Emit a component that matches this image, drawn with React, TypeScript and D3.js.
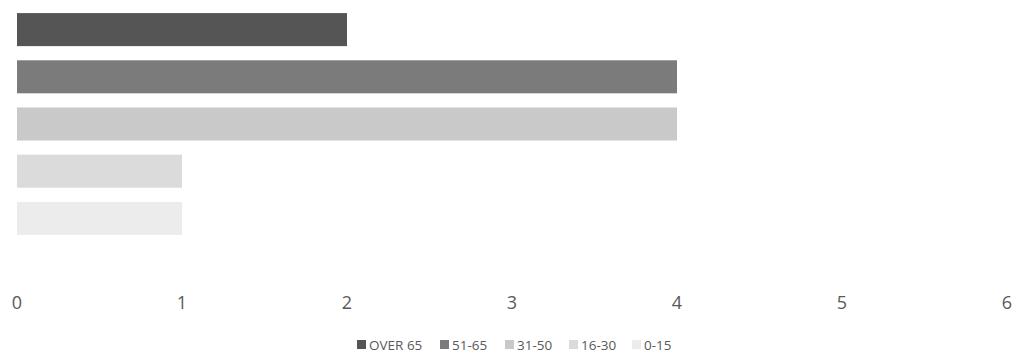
import React, { useEffect, useRef } from "react";
import * as d3 from "d3";

const categories = ["OVER 65", "51-65", "31-50", "16-30", "0-15"];
const values = [2, 4, 4, 1, 1];
const colors = ["#555555", "#7b7b7b", "#c9c9c9", "#dbdbdb", "#ececec"];
const xTicks = [0, 1, 2, 3, 4, 5, 6];

const W = 1017;
const H = 358;

export default function App() {
  const ref = useRef<SVGSVGElement>(null);

  useEffect(() => {
    const svg = d3.select(ref.current);
    svg.selectAll("*").remove();

    const x = d3.scaleLinear().domain([0, 6]).range([17, 1007]);
    const y = d3
      .scaleBand<string>()
      .domain(categories)
      .range([6, 242])
      .paddingInner(0.3)
      .paddingOuter(0.15);

    svg
      .append("g")
      .selectAll("rect")
      .data(categories)
      .join("rect")
      .attr("x", x(0))
      .attr("y", (d) => y(d)!)
      .attr("width", (_, i) => x(values[i]) - x(0))
      .attr("height", y.bandwidth())
      .attr("fill", (_, i) => colors[i]);

    svg
      .append("g")
      .selectAll("text")
      .data(xTicks)
      .join("text")
      .attr("x", (d) => x(d))
      .attr("y", 309)
      .attr("text-anchor", "middle")
      .attr("font-family", "'Open Sans', sans-serif")
      .attr("font-size", 18)
      .attr("fill", "#595959")
      .text((d) => String(d));

    // legend entries
    const legendX = [357, 440, 505, 569, 632];
    const lg = svg
      .append("g")
      .selectAll("g")
      .data(categories)
      .join("g")
      .attr("transform", (_, i) => `translate(${legendX[i]},0)`);
    lg.append("rect")
      .attr("x", 0)
      .attr("y", 340)
      .attr("width", 9)
      .attr("height", 9)
      .attr("fill", (_, i) => colors[i]);
    lg.append("text")
      .attr("x", 12)
      .attr("y", 349.5)
      .attr("font-family", "'Open Sans', sans-serif")
      .attr("font-size", 13.5)
      .attr("fill", "#595959")
      .text((d) => d);
  }, []);

  return (
    <svg
      ref={ref}
      width={W}
      height={H}
      style={{ position: "absolute", left: 0, top: 0, background: "#fff" }}
    />
  );
}
